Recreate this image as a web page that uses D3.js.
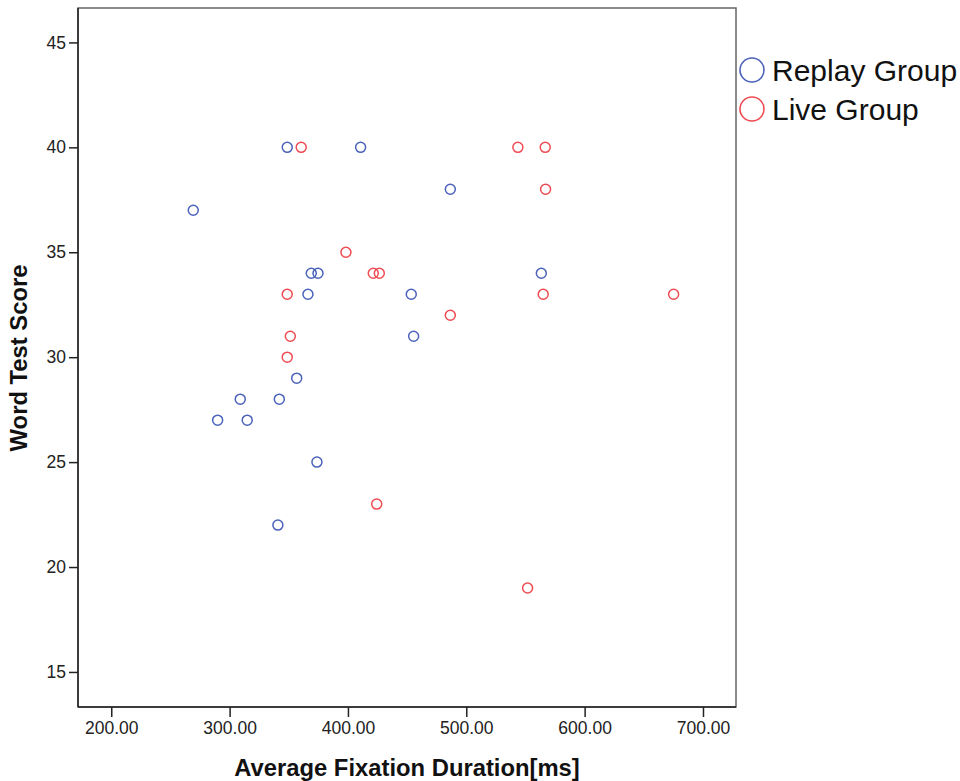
<!DOCTYPE html>
<meta charset="utf-8">
<style>
body { margin: 0; background: #fff; }
svg { font-family: "Liberation Sans", Arial, sans-serif; }
.tick text { fill: #222; font-size: 17.5px; }
.axis path, .axis line { stroke: #222; stroke-width: 1.5; }
.title { font-weight: bold; font-size: 23.8px; fill: #111; }
</style>
<svg width="960" height="781"></svg>
<script src="https://d3js.org/d3.v7.min.js"></script>
<script>
// Replay group: [fixation ms, score]
var replayX = [348.7, 410.7, 269.3, 486.5, 369.0, 374.7, 563.4, 366.2, 453.5, 455.5, 356.7, 309.0, 342.0, 289.9, 314.9, 373.8, 340.8];
var replayY = [40, 40, 37, 38, 34, 34, 34, 33, 33, 31, 29, 28, 28, 27, 27, 25, 22];
// Live group
var liveX = [360.5, 543.6, 566.7, 567.0, 398.3, 421.4, 426.5, 348.7, 565.0, 675.2, 486.5, 351.3, 348.7, 424.3, 551.8];
var liveY = [40, 40, 40, 38, 35, 34, 34, 33, 33, 33, 32, 31, 30, 23, 19];

var xTicks = [200, 300, 400, 500, 600, 700];
var yTicks = [15, 20, 25, 30, 35, 40, 45];
var groups = ["Replay Group", "Live Group"];
var colors = ["#4b62bb", "#ef4b52"];

var svg = d3.select("svg"),
    pLeft = 78, pRight = 736, pTop = 8, pBottom = 707;

var x = d3.scaleLinear().domain([171.9, 727.9]).range([pLeft, pRight]),
    y = d3.scaleLinear().domain([13.33, 46.64]).range([pBottom, pTop]);

// frame
svg.append("rect")
    .attr("x", pLeft).attr("y", pTop)
    .attr("width", pRight - pLeft).attr("height", pBottom - pTop)
    .attr("fill", "none").attr("stroke", "#666").attr("stroke-width", 1.5);

svg.append("g")
    .attr("class", "axis")
    .attr("transform", "translate(0," + pBottom + ")")
    .call(d3.axisBottom(x).tickValues(xTicks).tickSize(10).tickPadding(5).tickFormat(d3.format(".2f")))
    .call(function(g) { g.select(".domain").attr("d", "M" + pLeft + ",0H" + pRight); });

svg.append("g")
    .attr("class", "axis")
    .attr("transform", "translate(" + pLeft + ",0)")
    .call(d3.axisLeft(y).tickValues(yTicks).tickSize(9).tickPadding(3))
    .call(function(g) { g.select(".domain").attr("d", "M0," + pTop + "V" + pBottom); });

svg.selectAll(".axis").attr("font-family", null).attr("font-size", null);

function drawPoints(xs, ys, color) {
  svg.append("g").selectAll("circle")
    .data(xs.map(function(d, i) { return [d, ys[i]]; }))
    .enter().append("circle")
    .attr("cx", function(d) { return x(d[0]); })
    .attr("cy", function(d) { return y(d[1]); })
    .attr("r", 5)
    .attr("fill", "none")
    .attr("stroke", color)
    .attr("stroke-width", 1.5);
}
drawPoints(replayX, replayY, colors[0]);
drawPoints(liveX, liveY, colors[1]);

// axis titles
svg.append("text").attr("class", "title")
    .attr("x", 407).attr("y", 776)
    .attr("text-anchor", "middle")
    .text("Average Fixation Duration[ms]");

svg.append("text").attr("class", "title")
    .attr("transform", "translate(27,358) rotate(-90)")
    .attr("text-anchor", "middle")
    .text("Word Test Score");

// legend
var leg = svg.append("g").selectAll("g")
    .data(groups)
    .enter().append("g")
    .attr("transform", function(d, i) { return "translate(752," + (70 + i * 39) + ")"; });
leg.append("circle")
    .attr("r", 12)
    .attr("fill", "none")
    .attr("stroke", function(d, i) { return colors[i]; })
    .attr("stroke-width", 1.6);
leg.append("text")
    .attr("x", 20).attr("y", 11)
    .attr("font-size", 30)
    .attr("fill", "#111")
    .text(function(d) { return d; });
</script>
